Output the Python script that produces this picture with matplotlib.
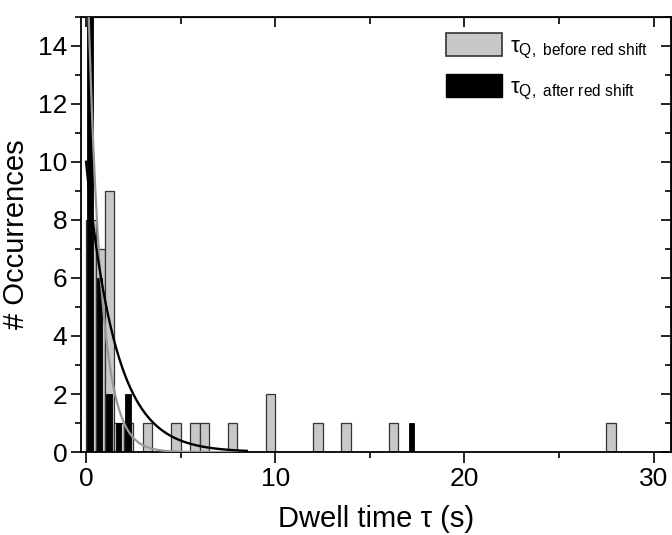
import numpy as np
import matplotlib.pyplot as plt
from matplotlib.patches import Patch
from matplotlib.ticker import MultipleLocator

plt.rcParams['font.family'] = ['Liberation Sans', 'DejaVu Sans']
plt.rcParams['mathtext.fontset'] = 'custom'
plt.rcParams['mathtext.rm'] = 'Liberation Sans'
plt.rcParams['mathtext.it'] = 'Liberation Sans'
plt.rcParams['mathtext.default'] = 'regular'

# Histogram data (bin starts in s, bin width 0.5 s)
before_bins = [0.0, 0.5, 1.0, 1.5, 2.0, 3.0, 4.5, 5.5, 6.0, 7.5, 9.5, 12.0, 13.5, 16.0, 27.5]
before_counts = [8, 7, 9, 1, 1, 1, 1, 1, 1, 1, 2, 1, 1, 1, 1]

after_bins = [0.0, 0.5, 1.0, 1.5, 2.0, 17.0]
after_counts = [20, 6, 2, 1, 2, 1]

# Exponential fits: y = A * exp(-t / tau)
fit_before = (18.4, 0.69)
fit_after = (10.0, 1.55)

fig, ax = plt.subplots(figsize=(6.72, 5.35), dpi=100)
fig.subplots_adjust(left=0.121, right=0.998, bottom=0.155, top=0.969)

ax.bar(before_bins, before_counts, width=0.5, align='edge',
       color='#c8c8c8', edgecolor='#333333', linewidth=0.9, zorder=2)
ax.bar(np.array(after_bins) + 0.07, after_counts, width=0.28, align='edge',
       color='black', edgecolor='black', linewidth=0.6, zorder=3)

t = np.linspace(0, 8.5, 400)
ax.plot(t, fit_before[0] * np.exp(-t / fit_before[1]), color='#999999', lw=1.6, zorder=4)
ax.plot(t, fit_after[0] * np.exp(-t / fit_after[1]), color='black', lw=1.7, zorder=5)

ax.set_xlim(-0.25, 30.9)
ax.set_ylim(0, 15)
ax.xaxis.set_major_locator(MultipleLocator(10))
ax.xaxis.set_minor_locator(MultipleLocator(5))
ax.yaxis.set_major_locator(MultipleLocator(2))
ax.yaxis.set_minor_locator(MultipleLocator(1))

ax.tick_params(which='both', direction='out', labelsize=19, width=1.2)
ax.tick_params(which='major', length=7)
ax.tick_params(which='minor', length=4)
ax.tick_params(axis='x', which='major', length=8, pad=3)
ax.tick_params(axis='y', pad=3)

# inward ticks on top and right
for spine in ax.spines.values():
    spine.set_linewidth(1.3)
secx = ax.secondary_xaxis('top')
secx.xaxis.set_major_locator(MultipleLocator(10))
secx.xaxis.set_minor_locator(MultipleLocator(5))
secx.tick_params(which='both', direction='in', labeltop=False, width=1.2)
secx.tick_params(which='major', length=7)
secx.tick_params(which='minor', length=5)
secy = ax.secondary_yaxis('right')
secy.yaxis.set_major_locator(MultipleLocator(2))
secy.yaxis.set_minor_locator(MultipleLocator(1))
secy.tick_params(which='both', direction='in', labelright=False, width=1.2)
secy.tick_params(which='major', length=7)
secy.tick_params(which='minor', length=4)

ax.set_xlabel('Dwell time τ (s)', fontsize=21, labelpad=10)
ax.set_ylabel('# Occurrences', fontsize=21, labelpad=6)

handles = [Patch(facecolor='#c8c8c8', edgecolor='#333333', linewidth=1.2),
           Patch(facecolor='black', edgecolor='black')]
labels = [r'$\tau_{Q,\ before\ red\ shift}$', r'$\tau_{Q,\ after\ red\ shift}$']
ax.legend(handles, labels, loc='upper right', frameon=False, fontsize=16,
          handlelength=2.55, handleheight=1.2, handletextpad=0.35,
          labelspacing=0.6, borderaxespad=0.0, bbox_to_anchor=(0.977, 0.982))

fig.savefig('out.png', dpi=100)
